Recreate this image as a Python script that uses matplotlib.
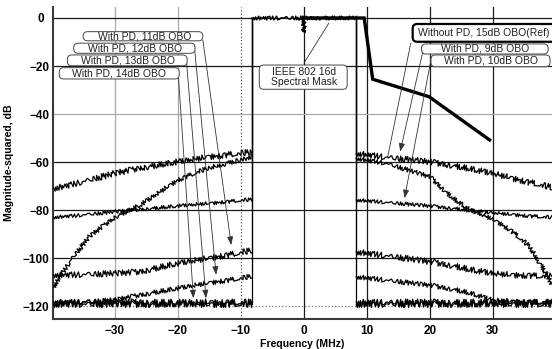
import matplotlib
matplotlib.use("Agg")
import matplotlib.pyplot as plt
import matplotlib.transforms as mtransforms
from matplotlib.patches import FancyBboxPatch

plt.rcParams["font.family"] = ["Liberation Sans", "DejaVu Sans"]

# out-of-band sample frequencies (MHz)
freq_left = [-39.7, -37.0, -34.0, -30.0, -26.0, -20.0, -15.0, -10.0, -8.25]
freq_right = [8.35, 13.0, 20.0, 23.7, 26.4, 30.0, 32.8, 35.9, 37.5, 39.4]
# in-band part is common to every trace (DC notch at 0 MHz)
freq_inband = [-8.25, -0.1, 0.0, 0.1, 8.35]
inband_db = [0.0, 0.0, -6.0, 0.0, 0.0]

nopd15_left = [-112.0, -101.0, -91.0, -83.0, -78.0, -67.5, -62.3, -59.2, -57.8]
nopd15_right = [-58.5, -60.5, -66.1, -75.1, -80.0, -83.7, -88.3, -95.3, -102.2, -111.0]
pd9_left = [-71.0, -69.5, -67.5, -64.7, -62.5, -59.9, -57.8, -56.4, -55.7]
pd9_right = [-56.4, -58.0, -59.9, -61.5, -62.8, -64.7, -66.5, -68.5, -69.5, -70.5]
pd10_left = [-83.0, -82.5, -81.8, -80.7, -79.8, -78.3, -77.2, -76.0, -75.6]
pd10_right = [-75.8, -76.8, -78.3, -79.3, -80.2, -81.1, -81.8, -82.5, -82.8, -83.0]
pd11_left = [-107.0, -107.0, -106.8, -106.4, -105.7, -102.2, -100.0, -97.8, -96.7]
pd11_right = [-97.4, -99.0, -101.5, -103.2, -104.8, -106.4, -107.0, -107.3, -107.5, -107.5]
pd12_left = [-118.2, -118.4, -118.2, -117.5, -115.4, -112.6, -110.3, -108.5, -107.5]
pd12_right = [-107.8, -109.2, -111.3, -113.0, -114.6, -117.5, -118.0, -118.3, -118.4, -118.5]
pd13_left = [-118.4, -118.5, -118.4, -118.5, -118.4, -118.5, -118.4, -118.5, -118.4]
pd13_right = [-118.4, -118.5, -118.4, -118.5, -118.4, -118.5, -118.4, -118.5, -118.4, -118.5]
pd14_left = [-119.3, -119.2, -119.3, -119.2, -119.3, -119.2, -119.3, -119.2, -119.3]
pd14_right = [-119.3, -119.2, -119.3, -119.2, -119.3, -119.2, -119.3, -119.2, -119.3, -119.2]

# IEEE 802.16d mask (upper side)
mask_freq = [0.0, 9.6, 10.95, 19.9, 29.5]
mask_db = [0.0, 0.0, -25.5, -32.8, -50.8]

x_ticks = [-30, -20, -10, 0, 10, 20, 30]
y_ticks = [0, -20, -40, -60, -80, -100, -120]

# (left, right, noise amplitude in px)
traces = [
    (nopd15_left, nopd15_right, 2.2),
    (pd9_left, pd9_right, 3.0),
    (pd10_left, pd10_right, 1.8),
    (pd11_left, pd11_right, 3.0),
    (pd12_left, pd12_right, 2.4),
    (pd13_left, pd13_right, 3.2),
    (pd14_left, pd14_right, 3.2),
]

fig = plt.figure(figsize=(5.52, 3.49), dpi=100)
ax = fig.add_axes([53 / 552, 1 - 319 / 349, 499 / 552, 312 / 349])
ax.set_xlim(-39.79, 39.41)
ax.set_ylim(-125.4, 4.58)

# grid, mixed styles as in the original
grid_dark = "#1a1a1a"
grid_gray = "#a8a8a8"
for xv, col, ls in [(-30, grid_gray, "-"), (-20, grid_gray, "-"), (-10, "#555555", ":"),
                    (0, grid_dark, "-"), (10, grid_dark, "-"), (20, grid_dark, "-"), (30, grid_dark, "-")]:
    ax.axvline(xv, color=col, ls=ls, lw=0.9, zorder=1)
for yv, col, ls in [(0, grid_dark, "-"), (-20, grid_dark, "-"), (-40, grid_gray, "-"),
                    (-60, grid_dark, "-"), (-80, grid_dark, "-"), (-100, grid_dark, "-"), (-120, "#777777", ":")]:
    ax.axhline(yv, color=col, ls=ls, lw=0.9, zorder=1)

for left, right, noise in traces:
    for xs, ys in [(freq_left, left), (freq_right, right)]:
        ln, = ax.plot(xs, ys, color="black", lw=0.9, zorder=3)
        ln.set_sketch_params(noise, 2.0, 2.0)
    # band edges: drop from in-band level to the out-of-band level
    ax.plot([freq_inband[0], freq_inband[0]], [left[-1], inband_db[0]], color="black", lw=0.8, zorder=3)
    ax.plot([freq_inband[-1], freq_inband[-1]], [right[0], inband_db[-1]], color="black", lw=0.8, zorder=3)

top, = ax.plot(freq_inband, inband_db, color="black", lw=1.0, zorder=3)
top.set_sketch_params(2.0, 2.0, 2.0)

ax.plot(mask_freq, mask_db, color="black", lw=2.4, zorder=4, solid_joinstyle="miter")

# labels: text, text centre, box (x0, x1, y0, y1), arrow start, arrow tip, head
labels = [
    ("With PD, 11dB OBO", (-25.3, -7.6), (-35.0, -16.0, -9.5, -5.7), (-16.0, -9.2), (-11.5, -94.6), True),
    ("With PD, 12dB OBO", (-26.8, -12.6), (-36.5, -17.25, -14.7, -10.5), (-17.3, -13.3), (-13.9, -107.0), True),
    ("With PD, 13dB OBO", (-27.9, -17.6), (-37.5, -18.5, -19.9, -15.4), (-18.6, -18.2), (-15.5, -116.8), True),
    ("With PD, 14dB OBO", (-29.3, -23.0), (-38.8, -19.75, -25.4, -20.7), (-19.9, -23.75), (-17.5, -116.8), True),
    ("Without PD, 15dB OBO(Ref)", (28.5, -6.3), (17.3, 41.0, -9.9, -2.5), (17.0, -10.4), (13.3, -58.3), False),
    ("With PD, 9dB OBO", (28.8, -12.9), (18.7, 38.8, -15.0, -10.8), (18.9, -14.2), (15.3, -55.7), True),
    ("With PD, 10dB OBO", (29.7, -17.9), (20.2, 39.1, -20.3, -15.4), (20.2, -17.5), (16.0, -75.1), True),
    ("IEEE 802 16d\nSpectral Mask", (0.0, -24.6), (-7.05, 6.9, -29.7, -19.6), (0.05, -18.75), (4.0, -2.1), False),
]
for text, (tx, ty), (bx0, bx1, by0, by1), start, tip, head in labels:
    thick = text.startswith("Without")
    box = FancyBboxPatch((bx0, by0), bx1 - bx0, by1 - by0,
                         boxstyle="round,pad=0,rounding_size=0.7", mutation_aspect=2.625,
                         fc="white", ec="black" if thick else "#444444",
                         lw=1.6 if thick else 0.7, zorder=6, clip_on=False)
    ax.add_patch(box)
    ax.text(tx, ty, text, ha="center", va="center", fontsize=7.5, color="#222222",
            linespacing=1.05, zorder=7, clip_on=False)
    ax.annotate("", xy=tip, xytext=start, zorder=5,
                arrowprops=dict(arrowstyle="-|>,head_length=0.5,head_width=0.18" if head else "-",
                                color="#333333", lw=0.6, shrinkA=0, shrinkB=0))

ax.set_xticks(x_ticks)
ax.set_yticks(y_ticks)
ax.tick_params(length=0, labelsize=8.5)
ax.tick_params(axis="x", pad=4)
ax.tick_params(axis="y", pad=2.5)
for lab in ax.get_xticklabels() + ax.get_yticklabels():
    lab.set_fontweight("bold")
# the "0" label sits a little left of the others in the original
zero_lab = ax.get_yticklabels()[0]
zero_lab.set_transform(zero_lab.get_transform()
                       + mtransforms.ScaledTranslation(-5 / 100, 0, fig.dpi_scale_trans))
ax.set_xlabel("Frequency (MHz)", fontsize=7.6, fontweight="bold", labelpad=2)
ax.set_ylabel("Magnitude-squared, dB", fontsize=7.6, fontweight="bold", labelpad=6)

for side in ["top", "right"]:
    ax.spines[side].set_visible(False)
for side in ["left", "bottom"]:
    ax.spines[side].set_color("#3a3a3a")
    ax.spines[side].set_linewidth(1.5)

fig.savefig("out.png", dpi=100)
